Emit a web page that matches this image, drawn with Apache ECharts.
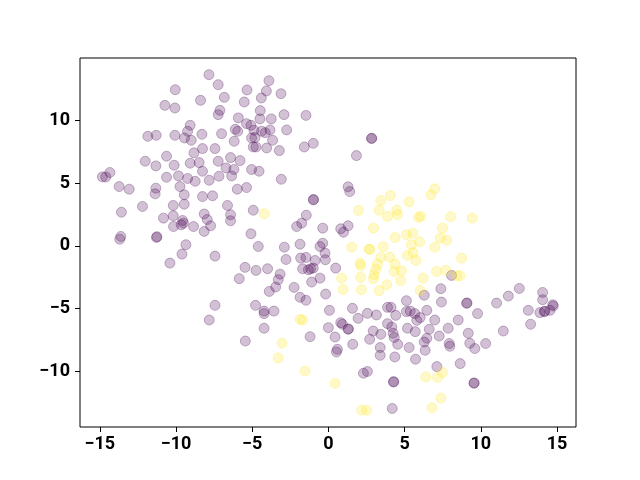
<!DOCTYPE html>
<html>
<head>
<meta charset="utf-8">
<script src="https://cdn.jsdelivr.net/npm/echarts@6/dist/echarts.min.js"></script>
<style>
  html, body { margin: 0; padding: 0; background: #fff; }
  #main { width: 640px; height: 480px; }
</style>
</head>
<body>
<div id="main"></div>
<script>
// class 0 (purple) and class 1 (yellow), [x, y]
var class0 = [
  [-10.05, 12.47], [-8.39, 11.62], [-10.73, 11.22], [-10.07, 11.01], [-9.07, 9.63],
  [-9.24, 9.15], [-8.30, 8.91], [-11.85, 8.75], [-11.30, 8.83], [-10.07, 8.83],
  [-9.44, 8.62], [-9.00, 8.43], [-8.26, 7.77], [-8.82, 7.43], [-10.62, 7.16],
  [-12.02, 6.76], [-11.32, 6.39], [-10.12, 6.44], [-9.07, 6.60], [-8.48, 6.65],
  [-8.26, 5.96], [-14.34, 5.86], [-14.83, 5.51], [-14.61, 5.51], [-10.62, 5.48],
  [-9.84, 5.59], [-9.24, 5.38], [-8.74, 5.16],
  [-7.84, 13.67], [-7.23, 12.87], [-3.90, 13.19], [-5.34, 12.45], [-4.07, 12.37],
  [-3.11, 12.15], [-6.83, 11.86], [-4.40, 11.81], [-5.52, 11.49], [-7.12, 10.82],
  [-7.23, 10.48], [-4.47, 10.80], [-2.91, 10.48], [-1.47, 10.42], [-5.91, 10.22],
  [-4.49, 10.14], [-3.75, 10.14], [-5.37, 9.76], [-5.08, 9.63], [-4.88, 9.23],
  [-6.11, 9.31], [-5.95, 9.15], [-4.38, 9.15], [-4.14, 9.04], [-3.83, 9.26],
  [-2.74, 9.26], [-7.01, 8.96], [-5.04, 8.62], [-4.82, 8.65], [-3.66, 8.43],
  [-6.18, 8.35], [-4.93, 7.90], [-4.75, 7.90], [-4.05, 7.82], [-3.22, 7.61],
  [-1.58, 7.90], [-0.99, 8.19], [-7.44, 7.77], [-6.42, 7.05], [-5.80, 6.81],
  [-7.23, 6.76], [-6.72, 6.23], [-6.20, 6.10], [-5.04, 6.10], [-4.55, 5.96],
  [-7.18, 5.56], [-6.35, 5.59], [-7.82, 5.24], [-3.09, 5.32],
  [2.83, 8.57], [2.85, 8.60], [1.84, 7.21],
  [-13.73, 4.74], [-13.07, 4.53], [-11.32, 4.61], [-11.37, 4.16], [-9.74, 4.74],
  [-9.46, 4.08], [-8.26, 3.94], [-12.20, 3.15], [-10.18, 3.23], [-9.46, 3.33],
  [-13.58, 2.69], [-10.82, 2.22], [-10.18, 2.41], [-9.57, 2.03], [-9.51, 1.82],
  [-8.15, 2.55], [-10.16, 1.55], [-9.66, 1.69], [-8.85, 1.55], [-8.15, 1.16],
  [-13.62, 0.76], [-13.69, 0.54], [-11.28, 0.68], [-11.25, 0.74], [-9.35, 0.10],
  [-9.61, -0.65], [-10.40, -1.37],
  [-5.98, 4.53], [-5.37, 4.66], [-7.60, 4.00], [-0.99, 3.68], [-0.97, 3.70],
  [-6.62, 3.23], [-4.93, 2.85], [-6.42, 2.49], [-6.42, 2.01], [-7.95, 2.11],
  [-7.73, 1.61], [-1.45, 2.45], [-1.75, 1.82], [-2.08, 1.55], [-0.37, 1.42],
  [-5.08, 0.97], [-4.60, -0.04], [-7.44, -0.81], [-2.89, -0.10], [-1.86, 0.14],
  [-0.37, 0.22], [-0.55, -0.04], [-0.22, -0.57], [-2.78, -1.08], [-1.82, -0.97],
  [-1.47, -0.92], [-0.87, -1.16], [-0.20, -1.10], [-5.47, -1.71], [-4.75, -1.95],
  [-3.99, -1.82], [-1.69, -1.82], [-1.31, -1.90], [-1.16, -1.82], [-0.99, -1.77],
  [-5.85, -2.61], [-3.17, -2.25], [-3.29, -2.69], [-1.10, -2.88], [-0.55, -2.57],
  [-3.46, -3.28], [-3.88, -3.63], [-2.25, -3.31], [-0.18, -3.84], [-1.86, -4.10],
  [-1.47, -4.34], [-7.44, -4.74], [-4.78, -4.74],
  [-7.82, -5.91], [-4.22, -5.20], [-4.22, -5.40], [-3.57, -5.20], [0.07, -5.14],
  [0.00, -6.52], [-4.22, -6.57], [-1.20, -7.24], [-5.45, -7.59],
  [1.29, 4.72], [1.40, 4.34], [0.81, 1.37], [0.99, 1.10], [1.29, 1.61],
  [0.48, -1.77], [5.12, -4.37], [6.29, -3.94], [7.38, -3.41], [7.42, -4.48],
  [8.08, -2.35],
  [12.53, -3.39], [11.81, -4.00], [14.06, -3.71], [14.06, -4.29], [11.04, -4.56],
  [14.72, -4.69], [9.07, -4.58], [9.10, -4.55],
  [1.58, -4.98], [0.81, -6.12], [0.92, -6.25], [1.29, -6.65], [1.32, -6.62],
  [1.95, -5.78], [2.56, -5.38], [3.15, -5.51], [3.88, -4.90], [4.11, -4.90],
  [4.42, -5.54], [5.12, -5.24], [5.37, -5.20], [5.67, -5.40], [5.80, -5.94],
  [6.02, -5.72], [6.46, -5.14], [6.98, -5.91], [7.86, -6.57], [3.88, -6.20],
  [4.16, -6.47], [4.25, -6.97], [4.32, -7.31], [2.94, -6.79], [3.44, -7.05],
  [2.71, -7.45], [5.19, -6.57], [5.70, -6.84], [6.62, -6.65], [7.27, -7.19],
  [6.46, -7.37], [6.29, -7.67], [4.55, -7.85], [0.44, -7.27], [1.60, -7.85],
  [3.40, -8.11], [3.40, -8.73], [5.30, -8.11], [6.35, -8.33], [7.93, -7.79],
  [7.97, -8.01], [0.59, -8.25], [0.53, -8.46], [4.36, -8.86], [5.72, -9.04],
  [7.12, -9.63], [2.30, -10.16], [2.56, -10.02], [4.27, -10.86], [4.29, -10.83],
  [4.19, -12.97],
  [9.79, -5.40], [8.52, -5.91], [9.18, -6.97], [9.28, -7.77], [9.61, -8.19],
  [10.32, -7.79], [11.48, -6.79], [13.12, -5.14], [13.27, -6.25], [13.88, -5.32],
  [14.17, -5.24], [14.20, -5.21], [14.54, -5.14], [14.76, -4.80], [8.65, -9.39],
  [9.55, -10.96], [9.57, -10.93]
];

var class1 = [
  [-4.21, 2.57], [-1.86, -5.86], [-1.69, -5.91], [-3.04, -7.77], [-3.30, -8.94],
  [-1.53, -9.98],
  [6.98, 4.56], [6.72, 4.08], [3.44, 3.63], [4.07, 4.02], [5.30, 3.52],
  [1.97, 2.83], [3.33, 2.85], [4.49, 2.85], [3.88, 2.35], [4.53, 2.49],
  [5.91, 2.27], [6.06, 2.37], [8.02, 2.33], [9.44, 2.22], [2.96, 1.42],
  [7.49, 1.42], [5.12, 0.89], [5.54, 1.02], [4.38, 0.68], [7.34, 0.62],
  [7.77, 0.46], [5.45, 0.10], [5.98, 0.33], [6.98, -0.10], [1.53, -0.10],
  [2.67, -0.25], [2.73, -0.29], [3.59, -0.06], [3.44, -0.92], [4.03, -0.89],
  [5.19, -0.76], [5.57, -0.54], [5.74, -1.16], [2.08, -1.37], [2.12, -1.58],
  [3.22, -1.45], [4.38, -1.45], [3.11, -1.85], [4.32, -2.03], [4.80, -1.98],
  [7.10, -2.03], [7.71, -1.95], [3.00, -2.29], [0.87, -2.57], [2.12, -2.51],
  [2.96, -2.61], [4.75, -2.77], [6.22, -2.57], [3.83, -3.09], [0.97, -3.47],
  [2.17, -3.49], [3.33, -3.57], [6.02, -3.55],
  [8.74, -0.97], [8.41, -2.37], [8.63, -2.37],
  [0.44, -10.98], [6.39, -10.45], [7.16, -10.50], [7.49, -10.10], [7.38, -12.15],
  [6.79, -12.92], [2.19, -13.11], [2.52, -13.11]
];

var xTicks = [-15, -10, -5, 0, 5, 10, 15];
var yTicks = [-10, -5, 0, 5, 10];

var myChart = echarts.init(document.getElementById('main'));

function minusFmt(v) {
  return String(v).replace('-', '\u2212');
}

var labelStyle = {
  color: '#000',
  fontFamily: 'Roboto',
  fontWeight: 'bold',
  fontSize: 18
};

var option = {
  animation: false,
  backgroundColor: '#fff',
  grid: {
    left: 80,
    right: 64,
    top: 58,
    bottom: 53,
    show: true,
    borderColor: '#000',
    borderWidth: 1,
    backgroundColor: '#fff'
  },
  xAxis: {
    type: 'value',
    min: -16.3,
    max: 16.25,
    splitLine: { show: false },
    axisLine: { show: false, onZero: false },
    axisTick: {
      show: true,
      customValues: xTicks,
      length: 5,
      lineStyle: { color: '#000', width: 1 }
    },
    axisLabel: Object.assign({
      customValues: xTicks,
      margin: 8,
      formatter: minusFmt
    }, labelStyle)
  },
  yAxis: {
    type: 'value',
    min: -14.45,
    max: 15.0,
    splitLine: { show: false },
    axisLine: { show: false, onZero: false },
    axisTick: {
      show: true,
      customValues: yTicks,
      length: 5,
      lineStyle: { color: '#000', width: 1 }
    },
    axisLabel: Object.assign({
      customValues: yTicks,
      margin: 10,
      formatter: minusFmt
    }, labelStyle)
  },
  series: [{
    type: 'scatter',
    data: class0,
    symbolSize: 10,
    itemStyle: {
      color: 'rgba(68,1,84,0.3)',
      borderColor: 'rgba(68,1,84,0.35)',
      borderWidth: 1
    }
  }, {
    type: 'scatter',
    data: class1,
    symbolSize: 10,
    itemStyle: {
      color: 'rgba(253,231,37,0.3)',
      borderColor: 'rgba(253,231,37,0.35)',
      borderWidth: 1
    }
  }]
};

myChart.setOption(option);
</script>
</body>
</html>
